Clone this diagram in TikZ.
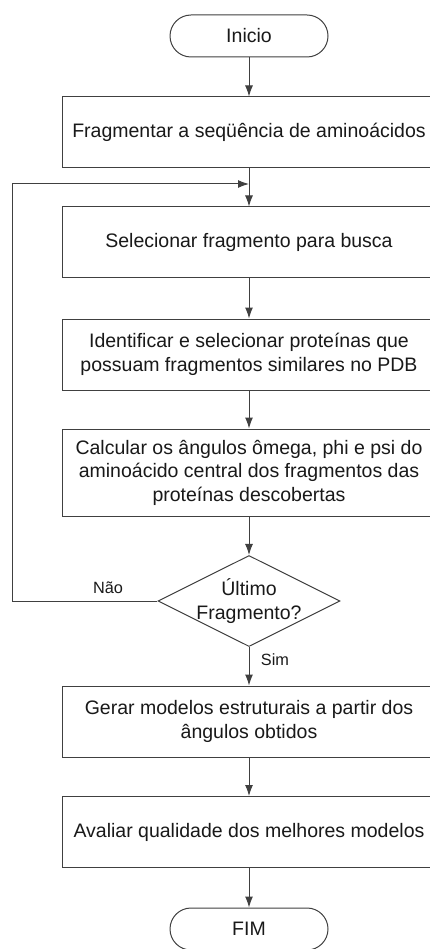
\documentclass[tikz,border=0pt]{standalone}
\usepackage{fontspec}
\setmainfont{Liberation Sans}
\usetikzlibrary{arrows.meta,shapes.geometric}

\begin{document}
\begin{tikzpicture}[x=1pt,y=-1pt,
    every node/.style={font=\fontsize{19.5}{23.5}\selectfont, text=black!90},
    caixa/.style={draw=black!75, line width=1pt, fill=white, minimum width=374pt, minimum height=71pt, align=center, inner sep=0pt},
    terminal/.style={draw=black!75, line width=1pt, fill=white, rounded corners=21pt, minimum width=158pt, minimum height=42pt},
    decisao/.style={draw=black!75, line width=1pt, fill=white, diamond, aspect=2, minimum width=182pt, minimum height=91pt, inner xsep=-6pt, inner ysep=0pt, align=center},
    seta/.style={draw=black!75, line width=1pt, -{Latex[length=11pt,width=8pt]}},
    rotulo/.style={font=\fontsize{16.3}{19}\selectfont}]
    \useasboundingbox (0,0) rectangle (430,949);
    \clip (0,0) rectangle (430,949);

    \node[terminal] (inicio) at (249,36) {Inicio};
    \node[caixa] (fragmentar) at (249,132.5) {Fragmentar a seqüência de aminoácidos};
    \node[caixa] (selecionar) at (249,242.5) {Selecionar fragmento para busca};
    \node[caixa] (identificar) at (249,354.5) {Identificar e selecionar proteínas que\\possuam fragmentos similares no PDB};
    \node[caixa, minimum height=87pt] (calcular) at (249,472.5) {Calcular os ângulos ômega, phi e psi do\\aminoácido central dos fragmentos das\\proteínas descobertas};
    \node[decisao] (ultimo) at (249,601) {Último\\Fragmento?};
    \node[caixa] (gerar) at (249,721.5) {Gerar modelos estruturais a partir dos\\ângulos obtidos};
    \node[caixa] (avaliar) at (249,832) {Avaliar qualidade dos melhores modelos};
    \node[terminal] (fim) at (249,929) {FIM};
    \coordinate (retorno) at (249,184);
    \coordinate (canto) at (12,601);

    \draw[seta] (inicio) -- (fragmentar);
    \draw[seta] (fragmentar) -- (selecionar);
    \draw[seta] (selecionar) -- (identificar);
    \draw[seta] (identificar) -- (calcular);
    \draw[seta] (calcular) -- (ultimo);
    \draw[seta] (ultimo) -- (gerar);
    \draw[seta] (gerar) -- (avaliar);
    \draw[seta] (avaliar) -- (fim);
    \draw[seta] (ultimo.west) -- (canto) |- (retorno);

    \node[rotulo] (nao) at (108,588) {Não};
    \node[rotulo] (sim) at (275,660) {Sim};
\end{tikzpicture}
\end{document}
